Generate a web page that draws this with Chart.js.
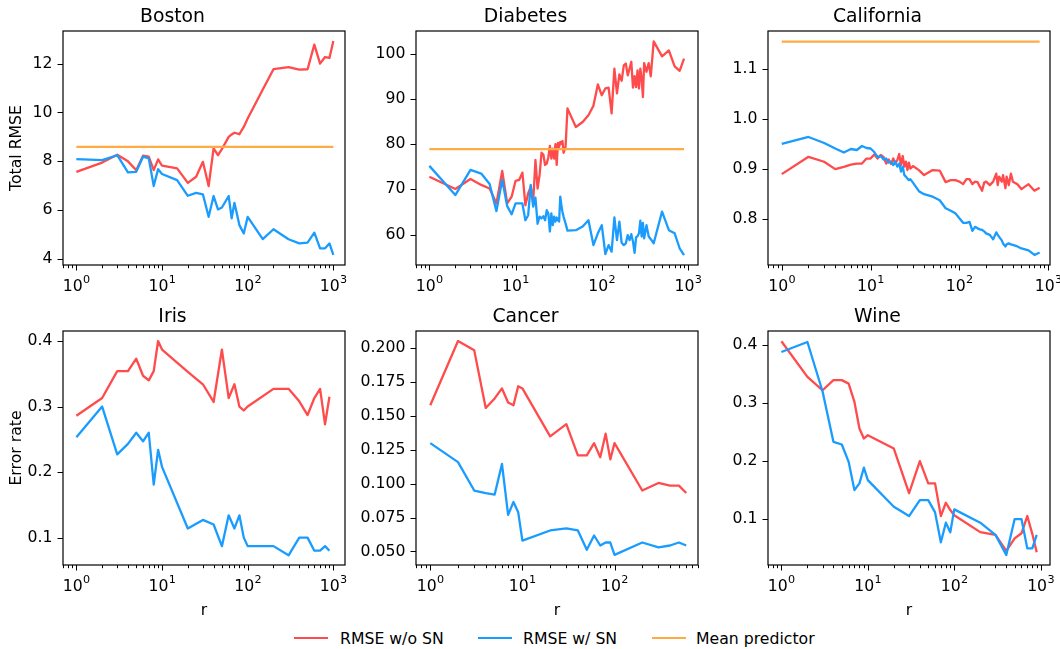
<!DOCTYPE html>
<html><head><meta charset="utf-8">
<script src="https://cdn.jsdelivr.net/npm/chart.js@4.4.0/dist/chart.umd.min.js"></script>
<style>
html,body{margin:0;padding:0;background:#fff;}
body{width:1060px;height:649px;overflow:hidden;position:relative;font-family:"DejaVu Sans",sans-serif;}
canvas.cv{position:absolute;}
.lt{position:absolute;top:629px;height:20px;font-size:15.7px;line-height:20px;color:#000;white-space:nowrap;}
.sw{position:absolute;top:637px;height:2.4px;}
</style></head><body>
<script>
// ---------- data ----------
const seriesLabels = ['RMSE w/o SN', 'RMSE w/ SN', 'Mean predictor'];
const panelTitles = ['Boston', 'Diabetes', 'California', 'Iris', 'Cancer', 'Wine'];
const yAxisTitles = ['Total RMSE', 'Error rate'];
const xAxisTitle = 'r';
const xTickValues = [1, 10, 100, 1000];
const xTickBase = ['10', '10', '10', '10'];
const xTickExp = ['0', '1', '2', '3'];

const bostonX = [1,2,3,4,5,6,7,8,9,10,15,20,25,30,35,40,45,50,60,65,70,80,90,100,150,200,300,400,500,600,700,800,900,1000];
const bostonRed = [7.57,7.95,8.27,8.0,7.64,8.23,8.19,7.64,8.08,7.82,7.71,7.12,7.37,7.98,6.99,8.53,8.25,8.5,9.0,9.1,9.17,9.11,9.41,9.75,10.94,11.77,11.86,11.75,11.77,12.78,12.0,12.27,12.23,12.93];
const bostonBlue = [8.09,8.05,8.25,7.55,7.57,8.19,8.12,6.99,7.68,7.48,7.23,6.59,6.71,6.65,5.73,6.58,6.03,6.11,6.58,5.67,6.3,5.39,5.05,5.73,4.82,5.22,4.81,4.64,4.67,5.08,4.44,4.44,4.64,4.17];
const bostonMean = 8.59;
const bostonYTicks = ['4','6','8','10','12'];

const diabetesX = [1,2,3,4,5,6,7,8,9,10,11,12,13,14,15,16,17,18,19,20,21,22,23,24,25,26,27,28,29,30,31,32,33,34,35,36,38,40,50,60,70,80,90,100,110,120,130,140,150,160,170,180,190,200,210,220,230,240,250,260,270,280,290,300,310,330,350,370,400,500,600,700,800,900];
const diabetesRed = [72.8,70.1,72.3,71.0,70.2,66.9,74.1,66.9,68.4,71.9,72.1,73.7,66.5,69.1,70.6,67.1,76.5,70.2,73.2,78.1,77.7,75.4,75.7,77.1,79.6,76.8,79.0,76.8,80.0,75.4,80.3,79.4,80.5,80.1,80.7,78.1,79.4,87.9,83.8,84.9,86.4,88.5,93.2,90.8,92.3,92.5,86.8,96.7,91.2,95.4,94.0,97.4,97.8,95.2,96.7,98.2,92.5,95.0,92.6,96.3,92.3,96.7,94.5,90.4,97.9,96.0,97.9,95.0,102.7,99.4,100.7,97.2,96.2,98.9];
const diabetesBlue = [75.2,68.75,74.3,73.5,71.2,65.2,72.1,66.3,64.5,66.9,66.9,66.9,63.2,64.3,71.0,66.2,68.2,62.4,64.0,63.6,64.1,63.2,65.4,64.7,60.7,64.7,62.1,64.0,62.9,63.8,63.2,62.9,68.4,66.5,65.0,64.0,62.5,60.9,61.0,61.8,63.2,57.7,60.3,62.1,55.7,57.7,56.25,63.8,58.8,62.9,58.2,57.7,58.1,59.9,58.8,60.1,58.5,56.0,59.4,59.7,60.3,63.1,59.6,62.6,59.2,62.1,59.6,59.0,58.1,65.1,61.0,60.3,57.0,55.5];
const diabetesMean = 78.9;
const diabetesYTicks = ['60','70','80','90','100'];

const californiaX = [1,2,3,4,5,6,7,8,9,10,11,12,13,14,15,16,17,18,19,20,21,22,23,24,25,26,27,28,30,35,40,50,60,70,80,90,100,110,120,130,140,150,160,170,180,190,200,220,240,260,270,280,300,310,330,340,360,380,400,450,500,600,700,800];
const californiaRed = [0.890,0.9245,0.9146,0.900,0.9046,0.909,0.911,0.911,0.921,0.921,0.929,0.921,0.928,0.924,0.911,0.919,0.910,0.921,0.911,0.918,0.930,0.908,0.926,0.905,0.915,0.898,0.913,0.901,0.906,0.898,0.888,0.898,0.897,0.874,0.878,0.878,0.875,0.870,0.880,0.880,0.870,0.875,0.874,0.865,0.857,0.873,0.875,0.868,0.875,0.891,0.868,0.885,0.875,0.888,0.862,0.885,0.868,0.891,0.875,0.870,0.860,0.870,0.857,0.863];
const californiaBlue = [0.950,0.964,0.952,0.941,0.933,0.940,0.938,0.946,0.942,0.941,0.934,0.924,0.926,0.919,0.921,0.913,0.915,0.908,0.915,0.905,0.911,0.895,0.905,0.888,0.885,0.881,0.878,0.880,0.873,0.856,0.850,0.845,0.838,0.822,0.817,0.812,0.802,0.793,0.793,0.795,0.777,0.785,0.782,0.780,0.779,0.776,0.772,0.769,0.760,0.774,0.769,0.765,0.758,0.752,0.746,0.750,0.752,0.750,0.749,0.746,0.742,0.738,0.729,0.734];
const californiaMean = 1.154;
const californiaYTicks = ['0.8','0.9','1.0','1.1'];

const irisX = [1,2,3,4,5,6,7,8,9,10,20,30,40,50,60,70,80,90,100,200,300,400,500,600,700,800,900];
const irisRed = [0.286,0.313,0.354,0.354,0.373,0.347,0.340,0.354,0.400,0.387,0.353,0.334,0.307,0.387,0.313,0.334,0.300,0.294,0.300,0.327,0.327,0.308,0.287,0.313,0.327,0.273,0.315];
const irisBlue = [0.253,0.300,0.227,0.243,0.260,0.247,0.260,0.181,0.234,0.208,0.114,0.127,0.120,0.087,0.134,0.114,0.134,0.100,0.087,0.087,0.073,0.100,0.100,0.080,0.080,0.087,0.080];
const irisYTicks = ['0.1','0.2','0.3','0.4'];

const cancerX = [1,2,3,4,5,6,7,8,9,10,20,30,40,50,60,70,80,90,100,200,300,400,500,600];
const cancerRed = [0.158,0.2054,0.1985,0.156,0.163,0.1704,0.160,0.158,0.172,0.1704,0.135,0.144,0.121,0.121,0.130,0.1196,0.137,0.118,0.130,0.095,0.1006,0.0986,0.0986,0.0932];
const cancerBlue = [0.130,0.116,0.095,0.093,0.092,0.1146,0.077,0.0865,0.079,0.058,0.0655,0.067,0.0655,0.0512,0.0618,0.0544,0.0566,0.0566,0.0475,0.0566,0.053,0.0544,0.0566,0.0544];
const cancerYTicks = ['0.050','0.075','0.100','0.125','0.150','0.175','0.200'];

const wineX = [1,2,3,4,5,6,7,8,9,10,20,30,40,50,60,70,80,90,100,200,300,400,500,600,700,800,900];
const wineRed = [0.407,0.3455,0.3225,0.340,0.340,0.334,0.3025,0.2566,0.2393,0.245,0.222,0.145,0.2003,0.162,0.162,0.1057,0.1286,0.116,0.107,0.078,0.0733,0.0456,0.0673,0.076,0.1057,0.075,0.0432];
const wineBlue = [0.3885,0.4057,0.32,0.2336,0.229,0.1992,0.1504,0.162,0.189,0.1676,0.1217,0.1057,0.1332,0.1332,0.112,0.0604,0.0942,0.0776,0.1172,0.0942,0.0733,0.0386,0.1005,0.1005,0.05,0.05,0.0733];
const wineYTicks = ['0.1','0.2','0.3','0.4'];

// ---------- styling / layout ----------
const FONT = 'DejaVu Sans';
const COLORS = ['#ff4b4b', '#1a9cff', '#ffab45'];
const YW = 63, PW = 282, PH = 234, TH = 31, RP = 20;
const colLeft = [0, 353, 705];
const rowTop = [0, 300];
const XH = [34, 56];

const panels = [
  {x: bostonX, red: bostonRed, blue: bostonBlue, mean: bostonMean, yt: bostonYTicks, xr: [-0.156, 3.136], yr: [3.757, 13.335]},
  {x: diabetesX, red: diabetesRed, blue: diabetesBlue, mean: diabetesMean, yt: diabetesYTicks, xr: [-0.150, 3.116], yr: [53.3, 105.0]},
  {x: californiaX, red: californiaRed, blue: californiaBlue, mean: californiaMean, yt: californiaYTicks, xr: [-0.150, 3.02], yr: [0.709, 1.175]},
  {x: irisX, red: irisRed, blue: irisBlue, mean: null, yt: irisYTicks, xr: [-0.156, 3.136], yr: [0.0582, 0.4153]},
  {x: cancerX, red: cancerRed, blue: cancerBlue, mean: null, yt: cancerYTicks, xr: [-0.14, 2.906], yr: [0.040, 0.2128]},
  {x: wineX, red: wineRed, blue: wineBlue, mean: null, yt: wineYTicks, xr: [-0.154, 3.108], yr: [0.0213, 0.4247]}
];

function isPow10(v) { const l = Math.log10(v); return Math.abs(l - Math.round(l)) < 1e-9; }

const framePlugin = {
  id: 'frame',
  afterDraw(chart) {
    const {ctx, chartArea: a, scales} = chart;
    ctx.save();
    ctx.strokeStyle = '#000';
    ctx.lineWidth = 1.2;
    const L = Math.round(a.left), T = Math.round(a.top), R = Math.round(a.right), B = Math.round(a.bottom);
    ctx.strokeRect(L, T, R - L, B - T);
    ctx.lineWidth = 1;
    const xs = scales.x;
    xs.ticks.forEach(t => {
      const p = Math.round(xs.getPixelForValue(t.value)) + 0.5;
      const len = isPow10(t.value) ? 5.5 : 3.2;
      ctx.beginPath(); ctx.moveTo(p, B); ctx.lineTo(p, B + len); ctx.stroke();
    });
    const ys = scales.y;
    ys.ticks.forEach(t => {
      const p = Math.round(ys.getPixelForValue(t.value)) + 0.5;
      ctx.beginPath(); ctx.moveTo(L, p); ctx.lineTo(L - 5.5, p); ctx.stroke();
    });
    // x tick labels: base with raised exponent (mathtext style)
    ctx.fillStyle = '#000';
    ctx.textAlign = 'left';
    ctx.textBaseline = 'alphabetic';
    xTickValues.forEach((v, k) => {
      if (v < xs.min || v > xs.max) return;
      const p = xs.getPixelForValue(v);
      ctx.font = '15.7px "' + FONT + '"';
      const wb = ctx.measureText(xTickBase[k]).width;
      ctx.font = '11.2px "' + FONT + '"';
      const we = ctx.measureText(xTickExp[k]).width;
      const x0 = p - (wb + we) / 2;
      ctx.font = '15.7px "' + FONT + '"';
      ctx.fillText(xTickBase[k], x0, B + 25.7);
      ctx.font = '11.2px "' + FONT + '"';
      ctx.fillText(xTickExp[k], x0 + wb + 0.3, B + 18.4);
    });
    ctx.restore();
  }
};

panels.forEach((p, i) => {
  const row = Math.floor(i / 3), col = i % 3;
  const cv = document.createElement('canvas');
  cv.className = 'cv';
  const W = YW + PW + RP, H = TH + PH + XH[row];
  cv.width = W; cv.height = H;
  cv.style.left = colLeft[col] + 'px';
  cv.style.top = rowTop[row] + 'px';
  cv.style.width = W + 'px'; cv.style.height = H + 'px';
  document.body.appendChild(cv);

  const datasets = [];
  if (p.mean !== null) {
    datasets.push({label: seriesLabels[2], data: [{x: p.x[0], y: p.mean}, {x: p.x[p.x.length - 1], y: p.mean}], borderColor: COLORS[2]});
  }
  datasets.push({label: seriesLabels[1], data: p.x.map((v, k) => ({x: v, y: p.blue[k]})), borderColor: COLORS[1]});
  datasets.push({label: seriesLabels[0], data: p.x.map((v, k) => ({x: v, y: p.red[k]})), borderColor: COLORS[0]});

  new Chart(cv, {
    type: 'line',
    data: {datasets},
    options: {
      responsive: false, animation: false, devicePixelRatio: 1,
      layout: {padding: {left: 0, right: RP, top: 0, bottom: 0}},
      elements: {point: {radius: 0, hoverRadius: 0}, line: {borderWidth: 2.3, tension: 0, fill: false, borderJoinStyle: 'round'}},
      plugins: {
        legend: {display: false}, tooltip: {enabled: false},
        title: {display: true, text: panelTitles[i], color: '#000', font: {family: FONT, size: 18.8, weight: 'normal', lineHeight: 1.2}, padding: {top: 5.6, bottom: 2.84}}
      },
      scales: {
        x: {
          type: 'logarithmic', min: Math.pow(10, p.xr[0]), max: Math.pow(10, p.xr[1]),
          afterBuildTicks: s => {
            const out = [];
            for (let e = -1; e <= 3; e++) for (let m = 1; m <= 9; m++) {
              const v = m * Math.pow(10, e);
              if (v >= s.min && v <= s.max) out.push({value: v});
            }
            s.ticks = out;
          },
          afterFit: s => { s.height = XH[row]; },
          grid: {display: true, drawOnChartArea: false, drawTicks: true, tickLength: 5.5, color: 'rgba(0,0,0,0)'},
          border: {display: false},
          ticks: {display: false, autoSkip: false, maxRotation: 0, minRotation: 0},
          title: {display: row === 1, text: xAxisTitle, color: '#000', font: {family: FONT, size: 15.7, lineHeight: 1.2}, padding: {top: 0, bottom: 1}}
        },
        y: {
          type: 'linear', min: p.yr[0], max: p.yr[1],
          afterBuildTicks: s => { s.ticks = p.yt.map(l => ({value: parseFloat(l)})); },
          afterFit: s => { s.width = YW; },
          grid: {display: true, drawOnChartArea: false, drawTicks: true, tickLength: 5.5, color: 'rgba(0,0,0,0)'},
          border: {display: false},
          ticks: {padding: 5, color: '#000', font: {family: FONT, size: 15.7}, callback: (v, k) => p.yt[k]},
          title: {display: col === 0, text: yAxisTitles[row], color: '#000', font: {family: FONT, size: 15.7, lineHeight: 1.2}, padding: {top: 7.6, bottom: 0}}
        }
      }
    },
    plugins: [framePlugin]
  });
});

// ---------- legend ----------
const legendSwatch = [[294, 34], [477.5, 34], [652, 33.5]];
const legendText = [340, 523, 696];
seriesLabels.forEach((lab, i) => {
  const sw = document.createElement('div');
  sw.className = 'sw';
  sw.style.left = legendSwatch[i][0] + 'px';
  sw.style.width = legendSwatch[i][1] + 'px';
  sw.style.background = COLORS[i];
  document.body.appendChild(sw);
  const t = document.createElement('div');
  t.className = 'lt';
  t.style.left = legendText[i] + 'px';
  t.textContent = lab;
  document.body.appendChild(t);
});
</script>
</body></html>
